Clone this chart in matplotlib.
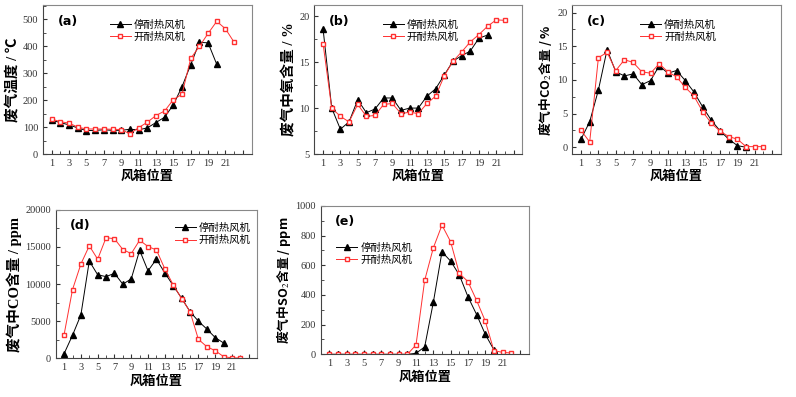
import numpy as np
import matplotlib
matplotlib.use('Agg')
import matplotlib.pyplot as plt
from matplotlib.ticker import MultipleLocator, FixedLocator

plt.rcParams['font.family'] = ['Liberation Serif', 'Noto Sans CJK SC', 'DejaVu Sans']
plt.rcParams['mathtext.fontset'] = 'stix'

# wind box positions
x_off = list(range(1, 21))   # 停耐热风机
x_on = list(range(1, 23))    # 开耐热风机

# (a) temperature, C
temp_off = [125, 117, 108, 97, 87, 88, 90, 88, 88, 92, 90, 97, 117, 137, 183, 250, 332, 415, 413, 333]
temp_on = [130, 120, 115, 100, 93, 93, 93, 92, 91, 75, 98, 118, 143, 160, 202, 222, 355, 400, 448, 493, 465, 415]

# (b) O2, %
o2_off = [18.6, 10.0, 7.7, 8.5, 10.9, 9.5, 9.9, 11.1, 11.1, 9.75, 10.0, 10.0, 11.3, 12.1, 13.6, 15.1, 15.7, 16.2, 17.6, 17.95]
o2_on = [17.0, 10.0, 9.1, 8.5, 10.4, 9.1, 9.2, 10.4, 10.5, 9.4, 9.55, 9.4, 10.5, 11.3, 13.5, 15.1, 16.1, 17.2, 18.0, 18.9, 19.6, 19.55]

# (c) CO2, %
co2_off = [1.2, 3.8, 8.5, 14.5, 11.2, 10.6, 10.9, 9.3, 9.9, 12.1, 11.0, 11.4, 9.9, 8.2, 6.0, 4.0, 2.45, 1.2, 0.25, 0.0]
co2_on = [2.5, 0.8, 13.3, 14.1, 11.4, 13.0, 12.6, 11.2, 11.0, 12.4, 11.2, 10.45, 8.9, 7.6, 5.3, 3.55, 2.4, 1.6, 1.2, 0.1, 0.1, 0.1]

# (d) CO, ppm
co_off = [630, 3100, 5850, 13100, 11250, 11000, 11450, 9980, 10700, 14550, 11780, 13350, 11500, 9800, 8100, 6300, 5000, 3950, 2800, 2070]
co_on = [3200, 9250, 12700, 15150, 13350, 16250, 16100, 14650, 14100, 15900, 15050, 14600, 12050, 9900, 8050, 6300, 2560, 1570, 1030, 230, 50, 50]

# (e) SO2, ppm
so2_off = [0, 0, 0, 0, 0, 0, 0, 0, 0, 0, 7, 50, 350, 690, 628, 535, 388, 268, 135, 30]
so2_on = [0, 0, 0, 0, 0, 0, 0, 0, 0, 0, 63, 498, 717, 870, 758, 545, 490, 363, 224, 25, 13, 9]

panels = [
    ('(a)', '废气温度 / ℃', temp_off, temp_on, (0, 553), 100, 50, [0.054, 0.612, 0.262, 0.375], (0.30, 0.93)),
    ('(b)', '废气中氧含量 / %', o2_off, o2_on, (5, 21.2), 5, 2.5, [0.395, 0.612, 0.261, 0.375], (0.31, 0.93)),
    ('(c)', '废气中CO$_2$含量 / %', co2_off, co2_on, (-1, 21.1), 5, 2.5, [0.719, 0.612, 0.262, 0.375], (0.305, 0.93)),
    ('(d)', '废气中CO含量 / ppm', co_off, co_on, (0, 20000), 5000, 2500, [0.070, 0.0975, 0.253, 0.374], (0.57, 0.94)),
    ('(e)', '废气中SO$_2$含量 / ppm', so2_off, so2_on, (0, 1000), 200, 100, [0.403, 0.1075, 0.261, 0.374], (0.055, 0.78)),
]

fig = plt.figure(figsize=(7.96, 3.97), dpi=100)

for tag, ylab, y_off, y_on, ylim, ymaj, ymin, pos, legpos in panels:
    ax = fig.add_axes(pos)
    ax.plot(x_off, y_off, color='black', lw=0.7, marker='^', ms=4.5, label='停耐热风机')
    ax.plot(x_on, y_on, color='#ff3030', lw=0.7, marker='s', ms=3.5, mfc='white', mec='#ff3030', label='开耐热风机')
    ax.set_xlim(0, 24)
    ax.set_ylim(*ylim)
    ax.xaxis.set_major_locator(FixedLocator(list(range(1, 24, 2))))
    ax.set_xticklabels([str(v) if v <= 21 else '' for v in range(1, 24, 2)])
    ax.xaxis.set_minor_locator(FixedLocator(list(range(2, 24, 2))))
    ax.yaxis.set_major_locator(MultipleLocator(ymaj))
    ax.yaxis.set_minor_locator(MultipleLocator(ymin))
    ax.tick_params(which='both', direction='in', labelsize=7.5, colors='#333333')
    ax.tick_params(which='major', length=3)
    ax.tick_params(which='minor', length=2)
    for s in ['top', 'right']:
        ax.spines[s].set_color('#888888')
    for s in ['left', 'bottom']:
        ax.spines[s].set_color('#444444')
    ax.set_xlabel('风箱位置', fontsize=9.5, fontweight='bold', family=['Noto Sans CJK SC'], labelpad=1)
    # mathtext labels only render CJK when the CJK family comes first
    if '$' in ylab:
        fam = ['Noto Sans CJK SC', 'DejaVu Sans']
        fs = 9.2
    else:
        fam = ['Liberation Serif', 'Noto Sans CJK SC', 'DejaVu Sans']
        fs = 10.5
    ax.set_ylabel(ylab, fontsize=fs, fontweight='bold', family=fam, labelpad=2)
    ax.text(0.07, 0.87, tag, transform=ax.transAxes, fontsize=9, fontweight='bold',
            family=['DejaVu Sans'])
    ax.legend(loc='upper left', bbox_to_anchor=legpos, frameon=False, handlelength=2.0,
              handletextpad=0.3, labelspacing=0.2, borderaxespad=0, numpoints=1,
              prop={'family': ['Noto Sans CJK SC'], 'size': 7.5})

fig.savefig('out.png', dpi=100)
